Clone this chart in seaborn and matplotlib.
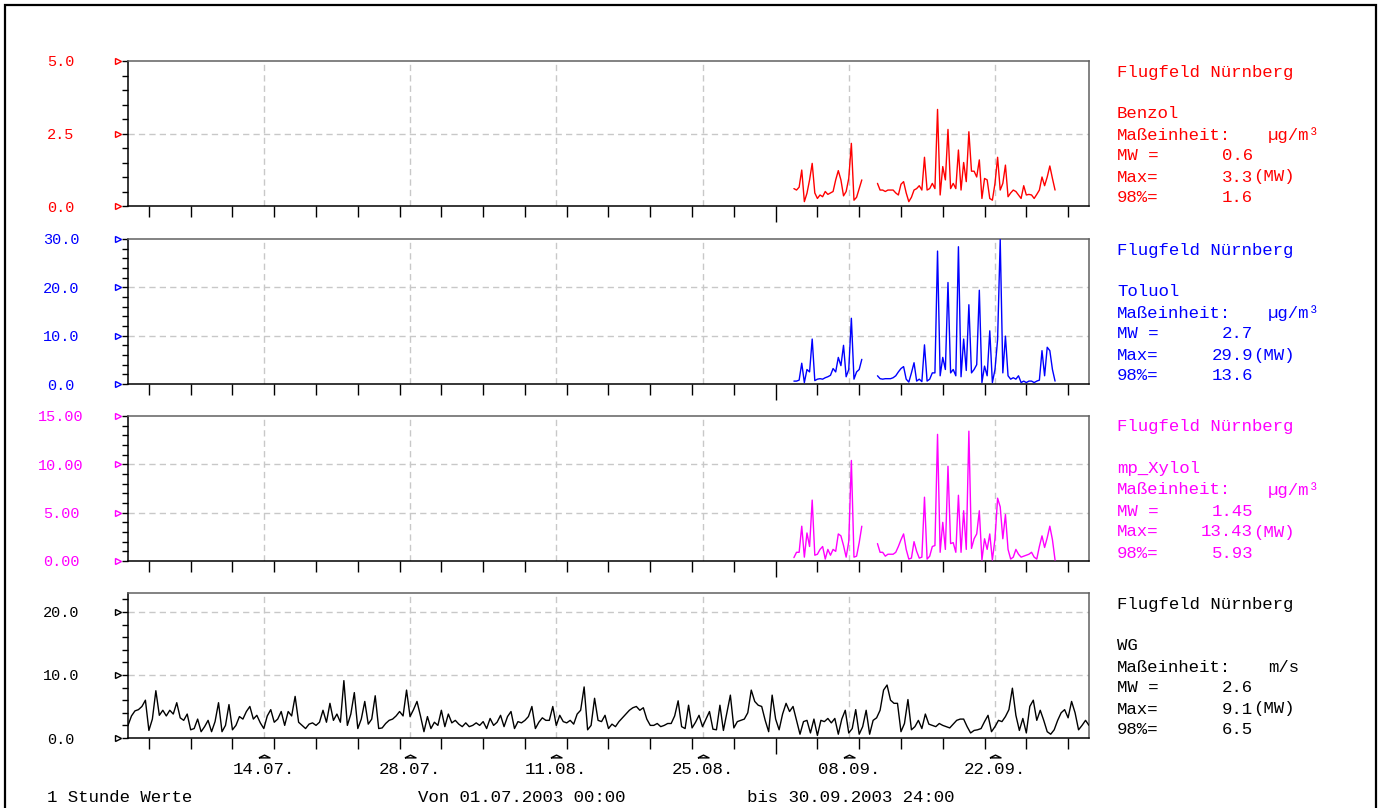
import numpy as np
import pandas as pd
import seaborn as sns
import matplotlib.pyplot as plt
import matplotlib.dates as mdates
from matplotlib.ticker import MultipleLocator
from matplotlib.transforms import offset_copy
from matplotlib.patches import Rectangle

nan = np.nan

# time axis
start = pd.Timestamp("2003-07-01 00:00")
end = pd.Timestamp("2003-10-01 00:00")
tick_days = pd.date_range("2003-07-03", "2003-09-29", freq="4D")
month_tick = pd.Timestamp("2003-09-01")
label_days = pd.date_range("2003-07-14", periods=6, freq="14D")
label_text = [d.strftime("%d.%m.") for d in label_days]

# hourly data, resampled coarser
voc_times = pd.date_range("2003-09-02 18:00", periods=101, freq="6h")
wg_times = pd.date_range(start, periods=277, freq="8h")

benzol = [0.6, 0.55, 0.65, 1.24, 0.15, 0.44, 0.9, 1.47, 0.45, 0.26,
          0.38, 0.32, 0.5, 0.4, 0.45, 0.5, 0.9, 1.22, 0.9, 0.35,
          0.5, 0.95, 2.16, 0.2, 0.3, 0.6, 0.9, nan, nan, nan,
          nan, nan, 0.78, 0.55, 0.55, 0.5, 0.55, 0.55, 0.55, 0.45,
          0.38, 0.75, 0.84, 0.45, 0.15, 0.3, 0.55, 0.6, 0.7, 0.55,
          1.68, 0.55, 0.6, 0.78, 0.6, 3.33, 0.38, 1.36, 0.9, 2.64,
          0.6, 0.78, 0.6, 1.93, 0.55, 1.5, 0.84, 2.56, 1.2, 1.2,
          1.0, 1.59, 0.26, 0.95, 0.9, 0.26, 0.2, 0.78, 1.68, 0.55,
          0.78, 1.41, 0.32, 0.45, 0.55, 0.5, 0.38, 0.26, 0.7, 0.38,
          0.4, 0.38, 0.26, 0.4, 0.55, 1.0, 0.7, 1.0, 1.38, 0.95,
          0.55]

toluol = [0.6, 0.6, 0.8, 4.3, 0.3, 3.0, 2.5, 9.3, 0.7, 1.0,
          1.1, 1.0, 1.3, 1.5, 1.8, 3.2, 2.5, 5.5, 3.8, 8.0,
          1.5, 3.0, 13.6, 1.0, 2.5, 3.0, 5.1, nan, nan, nan,
          nan, nan, 1.7, 1.1, 1.0, 1.1, 1.1, 1.1, 1.3, 1.7,
          2.5, 3.2, 3.6, 1.0, 0.4, 2.3, 4.4, 0.6, 1.0, 0.5,
          8.1, 0.6, 1.0, 2.3, 2.3, 27.5, 1.7, 5.5, 3.0, 21.0,
          2.3, 3.0, 1.7, 28.4, 1.5, 9.3, 2.8, 16.4, 2.3, 3.0,
          4.0, 19.4, 0.3, 3.7, 1.7, 11.0, 0.3, 3.0, 9.2, 29.9,
          2.3, 9.9, 1.7, 1.0, 1.3, 1.0, 1.7, 0.3, 0.6, 0.3,
          0.6, 0.6, 0.3, 0.6, 0.8, 6.9, 1.7, 7.6, 6.9, 3.0,
          0.6]

xylol = [0.35, 0.9, 0.9, 3.6, 0.4, 2.9, 1.5, 6.3, 0.6, 0.7,
         1.2, 1.5, 0.2, 1.2, 0.6, 1.2, 1.0, 2.8, 2.6, 1.6,
         0.4, 2.0, 10.4, 0.4, 0.5, 1.9, 3.6, nan, nan, nan,
         nan, nan, 1.8, 0.9, 0.9, 0.5, 0.7, 0.7, 0.7, 0.9,
         1.5, 2.2, 2.8, 1.2, 0.2, 0.3, 2.0, 1.0, 0.3, 0.4,
         6.6, 0.2, 0.5, 1.5, 1.6, 13.1, 0.9, 4.0, 1.2, 9.8,
         1.8, 1.9, 0.9, 6.8, 0.9, 5.2, 1.2, 13.43, 1.3, 2.3,
         2.8, 5.2, 0.1, 2.3, 1.2, 2.8, 0.1, 2.3, 6.5, 5.6,
         2.3, 4.8, 1.2, 0.2, 0.4, 1.2, 0.7, 0.4, 0.5, 0.6,
         0.7, 0.9, 0.4, 0.2, 1.5, 2.6, 1.4, 2.4, 3.6, 2.2,
         0.1]

wg = [2.0, 3.5, 4.3, 4.5, 5.0, 6.0, 1.2, 3.0, 7.5, 3.6,
      4.4, 3.5, 4.4, 3.8, 5.6, 3.2, 2.8, 3.8, 1.3, 1.5,
      3.0, 1.0, 1.8, 2.8, 1.0, 2.6, 5.6, 1.0, 2.0, 5.3,
      1.3, 2.0, 3.4, 3.0, 4.2, 5.0, 3.0, 3.6, 2.4, 1.5,
      3.5, 4.5, 2.5, 3.0, 4.2, 2.0, 4.2, 3.5, 6.6, 2.5,
      2.0, 1.5, 2.2, 2.4, 2.0, 2.5, 4.4, 2.5, 5.5, 2.8,
      3.8, 2.5, 9.1, 2.0, 3.8, 7.2, 1.5, 3.0, 5.8, 2.2,
      3.0, 6.7, 1.5, 1.6, 2.3, 2.8, 3.0, 3.5, 4.2, 3.5,
      7.6, 3.4, 4.5, 5.8, 3.5, 1.0, 3.4, 1.5, 2.5, 2.0,
      4.4, 1.8, 3.8,
      2.4, 2.8, 2.2, 1.8, 2.4, 1.8, 2.0, 2.4, 2.0, 2.6,
      1.5, 3.1, 2.0, 2.5, 3.6, 1.8, 3.4, 4.2, 1.5, 2.6,
      2.4, 2.8, 3.4, 5.0, 1.5, 2.5, 3.2, 2.8, 2.8, 5.0,
      2.0, 3.6, 2.6, 2.4, 2.8, 2.2, 3.8, 4.4, 8.1, 1.3,
      2.0, 6.3, 2.8, 2.6, 3.6, 1.5, 2.2, 1.8, 2.6, 3.2,
      3.8, 4.4, 4.8, 5.0, 4.4, 4.8, 3.0, 2.0, 2.0, 2.3,
      1.8, 2.0, 2.3, 2.3, 3.5, 5.9, 1.8, 1.5, 5.2, 1.6,
      2.5, 3.6, 1.8, 3.0, 4.2, 1.4, 1.3, 5.2, 1.2, 4.0,
      6.8, 1.6, 2.6, 2.8, 3.0, 4.0, 7.6, 5.8, 5.2, 5.0,
      2.8, 1.0,
      6.8, 3.0, 1.3, 3.8, 5.5, 4.2, 5.0, 2.8, 0.6, 2.6,
      2.8, 0.8, 3.0, 0.4, 2.8, 2.6, 3.1, 2.4, 3.1, 0.6,
      3.0, 4.4, 0.8, 1.5, 4.5, 0.6, 1.8, 4.4, 0.6, 2.8,
      3.2, 4.4, 7.6, 8.4, 6.0, 5.5, 5.5, 1.0, 2.3, 6.1,
      1.3, 1.8, 2.8, 1.5, 3.8, 2.2, 2.0, 1.8, 2.3, 2.0,
      1.8, 1.6, 2.2, 2.8, 3.0, 3.0, 1.8, 0.8, 1.2, 1.3,
      1.5, 2.6, 3.6, 1.0, 1.8, 2.8, 2.6, 3.4, 4.5, 7.9,
      3.6, 1.2, 3.1, 0.8, 5.0, 6.0, 2.8, 4.4, 2.8, 1.0,
      0.6, 1.3, 2.8, 4.0, 4.5, 3.2, 5.8, 4.0, 1.3, 2.0,
      2.8, 2.0]

# panel settings
names = ["Benzol", "Toluol", "mp_Xylol", "WG"]
units = ["µg/m³", "µg/m³", "µg/m³", "m/s"]
colors = ["#ff0000", "#0000ff", "#ff00ff", "#000000"]
series = [benzol, toluol, xylol, wg]
times = [voc_times, voc_times, voc_times, wg_times]
ytop = [5, 30, 15, 23]
yticks = [[0, 2.5, 5], [0, 10, 20, 30], [0, 5, 10, 15], [0, 10, 20]]
yminor = [0.5, 2, 1, 2]
yfmt = ["{:.1f}", "{:.1f}", "{:.2f}", "{:.1f}"]
mw_vals = ["0.6", "2.7", "1.45", "2.6"]
max_vals = ["3.3", "29.9", "13.43", "9.1"]
p98_vals = ["1.6", "13.6", "5.93", "6.5"]
station = "Flugfeld Nürnberg"

sns.set_theme(style="white")
plt.rcParams["font.family"] = ["Liberation Mono", "DejaVu Sans Mono"]
plt.rcParams["font.size"] = 12.5

W, H = 1382, 808
fig = plt.figure(figsize=(W / 100, H / 100), dpi=100)
tops = [61, 239, 416, 593]
ph = 145

grid_kw = dict(color="#c8c8c8", lw=1.0, ls=(0, (4.5, 3)), zorder=0)


def fy(px):
    return 1 - px / H


for i in range(4):
    c = colors[i]
    ax = fig.add_axes([128 / W, fy(tops[i] + ph), 961 / W, ph / H])

    df = pd.DataFrame({"t": times[i], "v": series[i]})
    df["seg"] = df["v"].isna().cumsum()
    df = df.dropna()
    sns.lineplot(data=df, x="t", y="v", units="seg", estimator=None,
                 color=c, lw=1.0, ax=ax, zorder=3)
    ax.set_xlabel("")
    ax.set_ylabel("")

    # grid
    for d in label_days:
        ax.axvline(mdates.date2num(d), **grid_kw)
    for v in yticks[i][1:]:
        if v < ytop[i]:
            ax.axhline(v, **grid_kw)

    # x ticks
    ax.set_xticks([mdates.date2num(month_tick)])
    ax.set_xticks([mdates.date2num(d) for d in tick_days if d != month_tick], minor=True)
    ax.tick_params(axis="x", which="major", bottom=True, length=11.5, width=1,
                   color="black", labelbottom=False, direction="out")
    ax.tick_params(axis="x", which="minor", bottom=True, length=8, width=1,
                   color="black", direction="out")

    # y ticks
    ax.set_yticks(yticks[i])
    ax.set_yticklabels([yfmt[i].format(v) for v in yticks[i]])
    ax.yaxis.set_minor_locator(MultipleLocator(yminor[i]))
    ax.tick_params(axis="y", which="both", left=True, length=4.3, width=1,
                   color="black", direction="out")
    ax.tick_params(axis="y", which="major", pad=44, labelcolor=c)
    for lbl in ax.get_yticklabels():
        lbl.set_ha("center")

    tri = offset_copy(ax.get_yaxis_transform(), fig=fig, x=-9.5, y=0, units="dots")
    ax.plot([0] * len(yticks[i]), yticks[i], ls="none", marker=">", ms=5,
            mfc="white", mec=c, mew=1.0, transform=tri, clip_on=False)

    ax.set_xlim(mdates.date2num(start), mdates.date2num(end))
    ax.set_ylim(0, ytop[i])

    for s in ax.spines.values():
        s.set_visible(True)
        s.set_linewidth(1.1)
        s.set_color("black")
    ax.spines["top"].set_color("#606060")
    ax.spines["right"].set_color("#606060")

    # info block on the right
    t0 = tops[i]
    x0 = 1117 / W
    kw = dict(color=c, va="center", ha="left", fontsize=12.5)
    fig.text(x0, fy(t0 + 11), station, **kw)
    fig.text(x0, fy(t0 + 53), names[i], **kw)
    fig.text(x0, fy(t0 + 74), "Maßeinheit:", **kw)
    fig.text(1268 / W, fy(t0 + 74), units[i], **kw)
    rows = [("MW =", mw_vals[i], ""), ("Max=", max_vals[i], "(MW)"),
            ("98%=", p98_vals[i], "")]
    for k, (lab, val, suf) in enumerate(rows):
        yy = fy(t0 + 95 + 21 * k)
        fig.text(x0, yy, lab, **kw)
        fig.text(1253 / W, yy, val, **{**kw, "ha": "right"})
        if suf:
            fig.text(1253 / W, yy, suf, **kw)

    if i == 3:
        lab_tr = offset_copy(ax.get_xaxis_transform(), fig=fig, x=0, y=-32, units="dots")
        car_tr = offset_copy(ax.get_xaxis_transform(), fig=fig, x=0, y=-18, units="dots")
        caret = [(-1, -0.25), (0, 0.25), (1, -0.25), (-1, -0.25)]
        for d, s in zip(label_days, label_text):
            xd = mdates.date2num(d)
            ax.text(xd, 0, s, transform=lab_tr, ha="center", va="center",
                    color="black", fontsize=12.5)
            ax.plot([xd], [0], ls="none", marker=caret, ms=8, mfc="white",
                    mec="black", mew=1.0, transform=car_tr, clip_on=False)

# footer
fkw = dict(color="black", va="center", ha="left", fontsize=12.5)
fig.text(47 / W, fy(797), "1 Stunde Werte", **fkw)
fig.text(418 / W, fy(797), "Von 01.07.2003 00:00", **fkw)
fig.text(747 / W, fy(797), "bis 30.09.2003 24:00", **fkw)

# outer frame
fig.add_artist(Rectangle((5 / W, -0.1), (1376 - 5) / W, 1.1 - 5 / H,
                         transform=fig.transFigure, fill=False, lw=1.6,
                         ec="black", clip_on=False))

fig.savefig("out.png", dpi=100)
